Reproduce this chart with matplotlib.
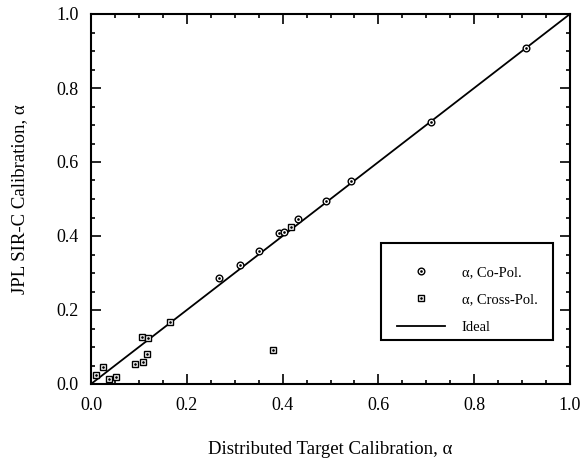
import matplotlib
matplotlib.use("Agg")
import matplotlib.pyplot as plt
from matplotlib.ticker import MultipleLocator
from matplotlib.patches import Rectangle

plt.rcParams['font.family'] = ['Liberation Serif', 'DejaVu Serif']

# Co-polarized calibration (alpha)
co_x = [0.268, 0.311, 0.351, 0.393, 0.403, 0.432, 0.491, 0.543, 0.709, 0.908]
co_y = [0.286, 0.321, 0.359, 0.409, 0.410, 0.445, 0.495, 0.549, 0.708, 0.909]

# Cross-polarized calibration (alpha)
cx_x = [0.010, 0.025, 0.038, 0.052, 0.092, 0.108, 0.106, 0.119, 0.117, 0.165, 0.379, 0.418]
cx_y = [0.024, 0.046, 0.0135, 0.019, 0.053, 0.059, 0.128, 0.124, 0.082, 0.168, 0.092, 0.424]

ideal_x = [0.0, 1.0]
ideal_y = [0.0, 1.0]

L, R, T, B = 91.0, 570.0, 14.0, 384.0
fig = plt.figure(figsize=(5.88, 4.61), dpi=100)
ax = fig.add_axes([L/588, 1 - B/461, (R-L)/588, (B-T)/461])

ms_open = 4.8
ms_dot = 1.8
h_ideal, = ax.plot(ideal_x, ideal_y, color='black', lw=1.3, zorder=2)
h_co, = ax.plot(co_x, co_y, ls='none', marker='o', ms=ms_open, mfc='white', mec='black',
                mew=1.0, zorder=3)
h_cod, = ax.plot(co_x, co_y, ls='none', marker='.', ms=ms_dot, color='black', zorder=4)
h_cx, = ax.plot(cx_x, cx_y, ls='none', marker='s', ms=ms_open, mfc='white', mec='black',
                mew=1.0, zorder=3)
h_cxd, = ax.plot(cx_x, cx_y, ls='none', marker='.', ms=ms_dot, color='black', zorder=4)

ax.set_xlim(0, 1)
ax.set_ylim(0, 1)
ax.xaxis.set_major_locator(MultipleLocator(0.2))
ax.yaxis.set_major_locator(MultipleLocator(0.2))
ax.xaxis.set_minor_locator(MultipleLocator(0.05))
ax.yaxis.set_minor_locator(MultipleLocator(0.05))
ax.xaxis.set_major_formatter(plt.FormatStrFormatter('%.1f'))
ax.yaxis.set_major_formatter(plt.FormatStrFormatter('%.1f'))
ax.tick_params(which='both', direction='in', top=True, right=True, labelsize=13, width=1.2)
ax.tick_params(which='major', length=7)
ax.tick_params(which='minor', length=3)
ax.tick_params(axis='x', pad=9)
ax.tick_params(axis='y', pad=9)
for s in ax.spines.values():
    s.set_linewidth(1.5)

ax.set_xlabel('Distributed Target Calibration, α', fontsize=13.5, labelpad=20)
ax.set_ylabel('JPL SIR-C Calibration, α', fontsize=13.5, labelpad=20)

# legend frame (drawn separately so that its padding matches the reference)
fx0 = (380.7 - L) / (R - L)
fx1 = (553.0 - L) / (R - L)
fy0 = (B - 340.0) / (B - T)
fy1 = (B - 243.0) / (B - T)
ax.add_patch(Rectangle((fx0, fy0), fx1 - fx0, fy1 - fy0, transform=ax.transAxes,
                       facecolor='white', edgecolor='black', lw=1.5, zorder=5))

leg = ax.legend([(h_co, h_cod), (h_cx, h_cxd), h_ideal],
                ['α, Co-Pol.', 'α, Cross-Pol.', 'Ideal'],
                loc='upper left', bbox_to_anchor=((396.7 - L) / (R - L), (B - 265.5) / (B - T)),
                fontsize=10.5, frameon=False, borderpad=0, borderaxespad=0,
                labelspacing=1.0, handlelength=3.3, handletextpad=1.15)
leg.set_zorder(6)

fig.savefig('out.png', dpi=100)
